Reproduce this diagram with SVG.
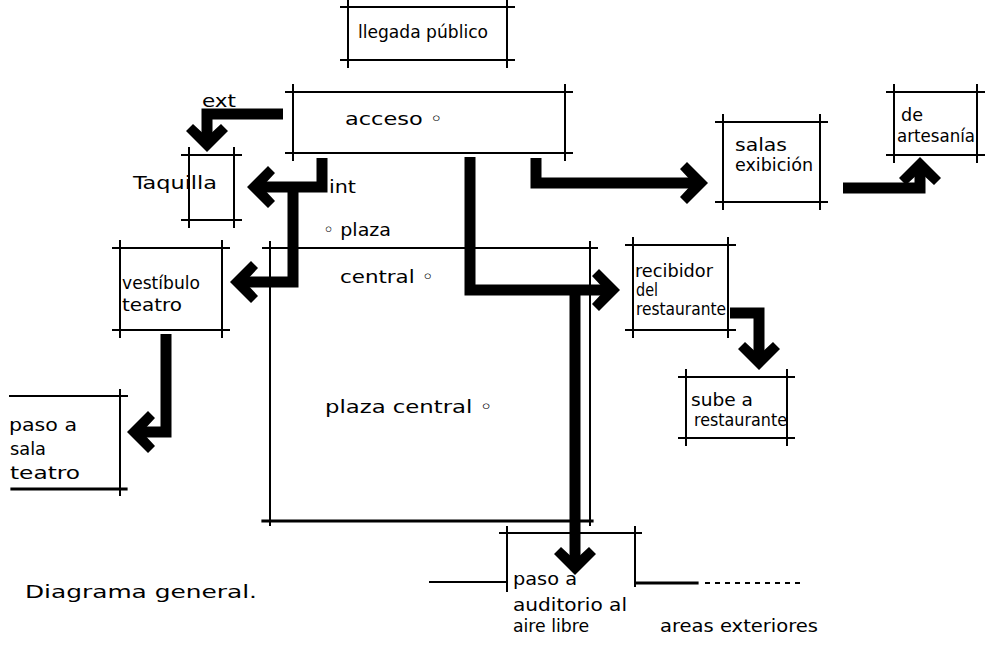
<svg xmlns="http://www.w3.org/2000/svg" width="985" height="653" viewBox="0 0 985 653">
<defs>
<style>
.box{fill:none;stroke:#000;stroke-width:2;stroke-linecap:square}
.thick{stroke-width:3.2}
.conn{fill:none;stroke:#000;stroke-width:11;stroke-linejoin:miter;marker-end:url(#head)}
text{font-family:"DejaVu Sans Condensed","Liberation Sans",sans-serif;fill:#000;font-size:18px}
</style>
<marker id="head" viewBox="-30 -24 32 48" markerWidth="32" markerHeight="48" refX="-14" refY="0" orient="auto" markerUnits="userSpaceOnUse">
<polygon points="0,0 -21,-21 -28,-14 -15,0 -28,14 -21,21" fill="#000"/>
</marker>
</defs>
<rect width="985" height="653" fill="#fff"/>

<g id="connectors">
<path class="conn" d="M283,114 H207 V138"/>
<path class="conn" d="M322,158 V187 H261"/>
<path class="conn" d="M293,182 V282 H244"/>
<path class="conn" d="M470,157 V290 H606"/>
<path class="conn" d="M575,285 V561"/>
<path class="conn" d="M536,158 V183 H694"/>
<path class="conn" d="M843,188 H920 V171"/>
<path class="conn" d="M730,313 H759 V356"/>
<path class="conn" d="M166,334 V432 H141"/>
</g>

<g id="llegada">
<path class="box" d="M341,7 H514 M507,0 V67 M514,60 H341 M348,67 V0"/>
<text x="358" y="38" textLength="130" lengthAdjust="spacingAndGlyphs" font-size="20">llegada público</text>
</g>

<g id="acceso">
<path class="box" d="M286,92 H572 M565,85 V160 M572,153 H286 M293,160 V85"/>
<text x="345" y="125" textLength="98" lengthAdjust="spacingAndGlyphs" font-size="20">acceso ◦</text>
</g>

<g id="ext-label">
<text x="202" y="107" textLength="34" lengthAdjust="spacingAndGlyphs" font-size="20">ext</text>
</g>

<g id="taquilla">
<path class="box" d="M182,155 H241 M234,148 V227 M241,220 H182 M189,227 V148"/>
<text x="133" y="189" textLength="84" lengthAdjust="spacingAndGlyphs">Taquilla</text>
</g>

<g id="int-label">
<text x="329" y="193" textLength="27" lengthAdjust="spacingAndGlyphs">int</text>
</g>

<g id="salas">
<path class="box" d="M716,122 H827 M820,115 V209 M827,202 H716 M723,209 V115"/>
<text x="735" y="151" textLength="52" lengthAdjust="spacingAndGlyphs" font-size="16">salas</text>
<text x="735" y="171" textLength="78" lengthAdjust="spacingAndGlyphs" font-size="16">exibición</text>
</g>

<g id="artesania">
<path class="box" d="M887,92 H984 M977,85 V162 M984,155 H887 M894,162 V85"/>
<text x="901" y="121" textLength="22" lengthAdjust="spacingAndGlyphs" font-size="17">de</text>
<text x="897" y="142" textLength="78" lengthAdjust="spacingAndGlyphs" font-size="17">artesanía</text>
</g>

<g id="plaza">
<path class="box" d="M263,248 H597 M270,242 V525 M590,242 V525"/>
<path class="box thick" d="M263,521 H592"/>
<text x="323" y="236" textLength="68" lengthAdjust="spacingAndGlyphs">◦ plaza</text>
<text x="340" y="283" textLength="94" lengthAdjust="spacingAndGlyphs" font-size="20">central ◦</text>
<text x="325" y="413" textLength="168" lengthAdjust="spacingAndGlyphs" font-size="22">plaza central ◦</text>
</g>

<g id="vestibulo">
<path class="box" d="M113,248 H229 M222,241 V337 M229,330 H113 M120,337 V241"/>
<text x="122" y="289" textLength="78" lengthAdjust="spacingAndGlyphs" font-size="19">vestíbulo</text>
<text x="122" y="311" textLength="60" lengthAdjust="spacingAndGlyphs" font-size="19">teatro</text>
</g>

<g id="paso-teatro">
<path class="box" d="M10,396 H127 M120,390 V495"/>
<path class="box thick" d="M12,489 H126"/>
<text x="9" y="431" textLength="68" lengthAdjust="spacingAndGlyphs" font-size="19">paso a</text>
<text x="10" y="455" textLength="36" lengthAdjust="spacingAndGlyphs" font-size="19">sala</text>
<text x="10" y="479" textLength="70" lengthAdjust="spacingAndGlyphs" font-size="19">teatro</text>
</g>

<g id="recibidor">
<path class="box" d="M626,245 H735 M728,238 V337 M735,330 H626 M633,337 V238"/>
<text x="635" y="277" textLength="78" lengthAdjust="spacingAndGlyphs" font-size="14">recibidor</text>
<text x="636" y="296" textLength="22" lengthAdjust="spacingAndGlyphs" font-size="14">del</text>
<text x="636" y="315" textLength="90" lengthAdjust="spacingAndGlyphs" font-size="14">restaurante</text>
</g>

<g id="sube">
<path class="box" d="M679,377 H794 M787,370 V445 M794,438 H679 M686,445 V370"/>
<text x="691" y="406" textLength="62" lengthAdjust="spacingAndGlyphs" font-size="17">sube a</text>
<text x="694" y="426" textLength="93" lengthAdjust="spacingAndGlyphs" font-size="17">restaurante</text>
</g>

<g id="auditorio">
<path class="box" d="M500,533 H641 M507,527 V591 M635,527 V586 M430,582 H507"/>
<path class="box thick" d="M636,583 H697"/>
<path d="M705,583 H800" fill="none" stroke="#000" stroke-width="2" stroke-dasharray="5 5"/>
<text x="513" y="585" textLength="64" lengthAdjust="spacingAndGlyphs" font-size="17">paso a</text>
<text x="513" y="611" textLength="114" lengthAdjust="spacingAndGlyphs" font-size="19">auditorio al</text>
<text x="513" y="632" textLength="76" lengthAdjust="spacingAndGlyphs" font-size="19">aire libre</text>
</g>

<g id="exteriores">
<text x="660" y="632" textLength="158" lengthAdjust="spacingAndGlyphs" font-size="19">areas exteriores</text>
</g>

<g id="titulo">
<text x="25" y="598" textLength="232" lengthAdjust="spacingAndGlyphs" font-size="24">Diagrama general.</text>
</g>
</svg>
